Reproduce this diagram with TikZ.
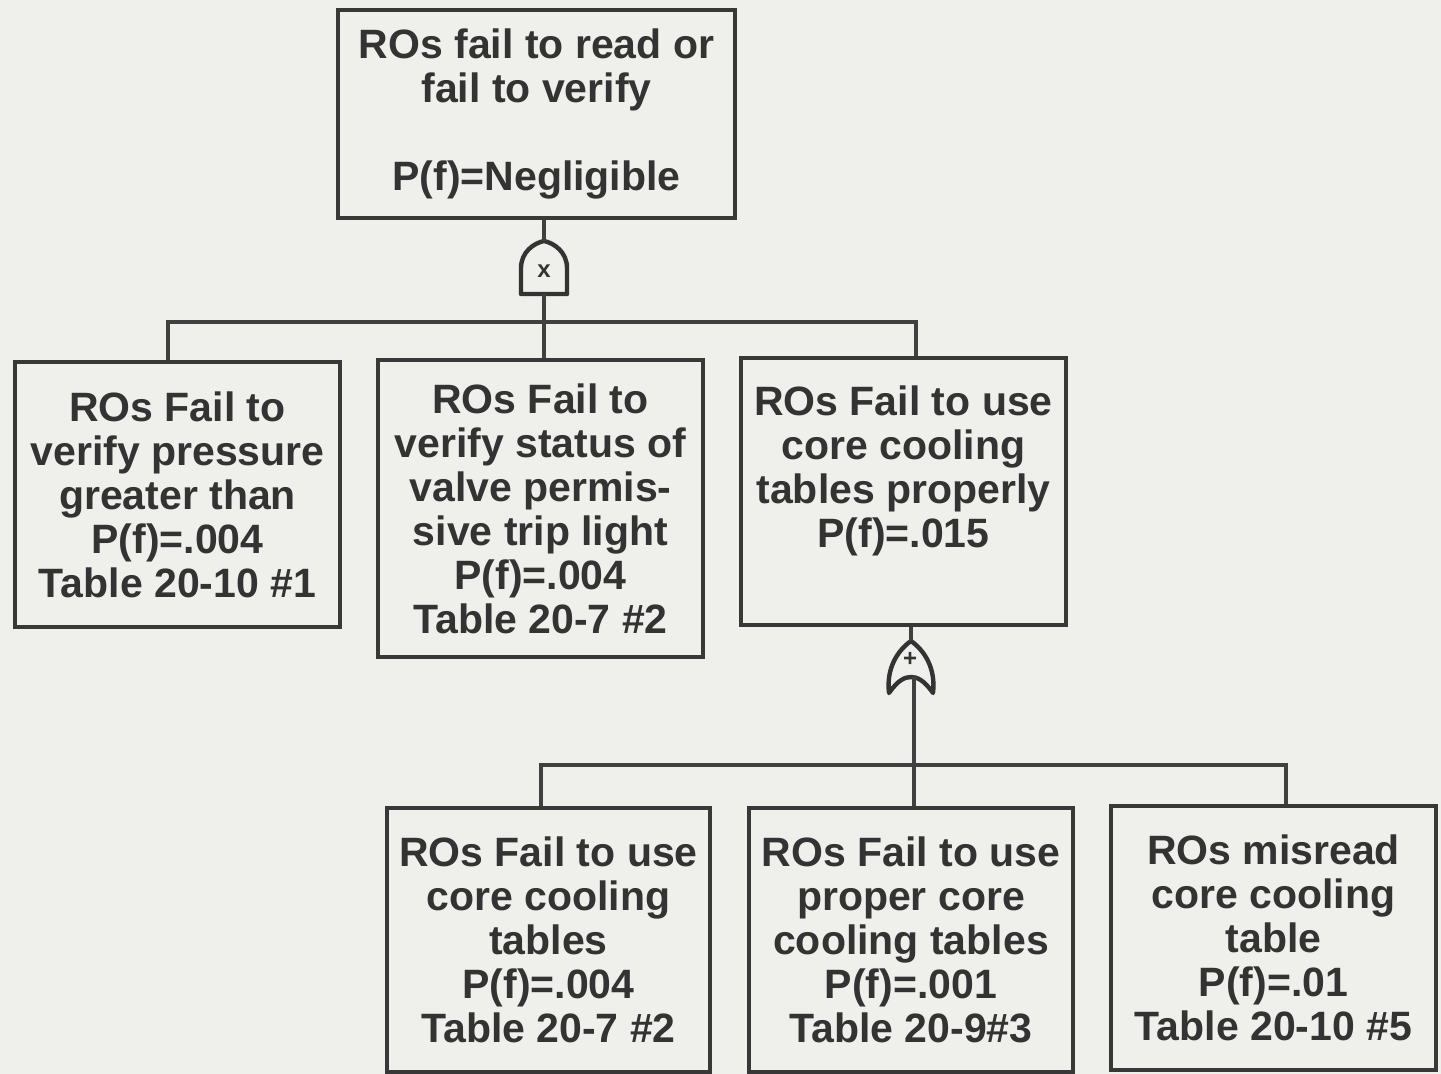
\documentclass[tikz,border=0pt]{standalone}
\usepackage{fontspec}
\setmainfont{Liberation Sans}
\begin{document}
\begin{tikzpicture}[x=1pt,y=-1pt,
  ink/.style={draw=black!78, line width=3.2pt},
  evbox/.style={ink, fill=none, inner sep=0pt, align=center, text=black!80,
     font=\bfseries\fontsize{41}{44}\selectfont},
  wire/.style={draw=black!75, line width=3.2pt},
  gateshape/.style={draw=black!80, line width=4.4pt, line join=round},
  gatesym/.style={inner sep=0pt, text=black!80, font=\bfseries\fontsize{24}{24}\selectfont}]
\useasboundingbox[fill={rgb,255:red,239;green,239;blue,236}] (0,0) rectangle (1441,1074);

% boxes
\node[evbox, minimum width=397pt, minimum height=208pt] (top) at (536.5,114)
  {ROs fail to read or\\fail to verify\\[44pt]P(f)=Negligible};
\node[evbox, minimum width=325pt, minimum height=265pt] (b1) at (177.5,494.5)
  {ROs Fail to\\verify pressure\\greater than\\P(f)=.004\\Table 20-10 \#1};
\node[evbox, minimum width=325pt, minimum height=297pt] (b2) at (540.5,508.5)
  {ROs Fail to\\verify status of\\valve permis-\\sive trip light\\P(f)=.004\\Table 20-7 \#2};
\node[evbox, minimum width=325pt, minimum height=267pt] (b3) at (903.5,491.5)
  {ROs Fail to use\\core cooling\\tables properly\\P(f)=.015\\[6pt]\mbox{}};
\node[evbox, minimum width=323pt, minimum height=264pt] (b4) at (548.5,940)
  {ROs Fail to use\\core cooling\\tables\\P(f)=.004\\Table 20-7 \#2};
\node[evbox, minimum width=324pt, minimum height=264pt] (b5) at (911,940)
  {ROs Fail to use\\proper core\\cooling tables\\P(f)=.001\\Table 20-9\#3};
\node[evbox, minimum width=325pt, minimum height=264pt] (b6) at (1273.5,938)
  {ROs misread\\core cooling\\table\\P(f)=.01\\Table 20-10 \#5};

% AND gate
\node[inner sep=0pt, minimum width=46pt, minimum height=53pt] (g1) at (544,267.5) {};
\path[gateshape] (521,294) -- (521,268) .. controls (521,252) and (534,243) .. (544,241)
   .. controls (554,243) and (567,252) .. (567,268) -- (567,294) -- cycle;
\node[gatesym] (g1s) at (544,271) {x};

% OR gate
\node[inner sep=0pt, minimum width=44pt, minimum height=52pt] (g2) at (911,667) {};
\path[gateshape] (889,693) .. controls (886,668) and (898,650) .. (911,641)
   .. controls (924,650) and (936,668) .. (933,693)
   .. controls (924,680) and (917,677) .. (911,677)
   .. controls (905,677) and (898,680) .. (889,693) -- cycle;
\node[gatesym] (g2s) at (910,659) {+};

% drop points of the buses
\coordinate (bus1) at (0,322);
\coordinate (d1) at (168,322);
\coordinate (d3) at (916,322);
\coordinate (bus2) at (0,765);
\coordinate (e1) at (541,765);
\coordinate (e2) at (914,765);
\coordinate (e3) at (1286,765);

% connectors top level
\draw[wire] (top.south -| g1.north) -- (g1.north);
\draw[wire] (g1.south) -- (g1.south |- b2.north);
\draw[wire] (d1 |- b1.north) -- (d1) -- (d3) -- (d3 |- b3.north);

% connectors lower level
\draw[wire] (b3.south -| g2.north) -- (g2.north);
\draw[wire] (914,677) -- (e2) -- (e2 |- b5.north);
\draw[wire] (e1 |- b4.north) -- (e1) -- (e3) -- (e3 |- b6.north);
\end{tikzpicture}
\end{document}
